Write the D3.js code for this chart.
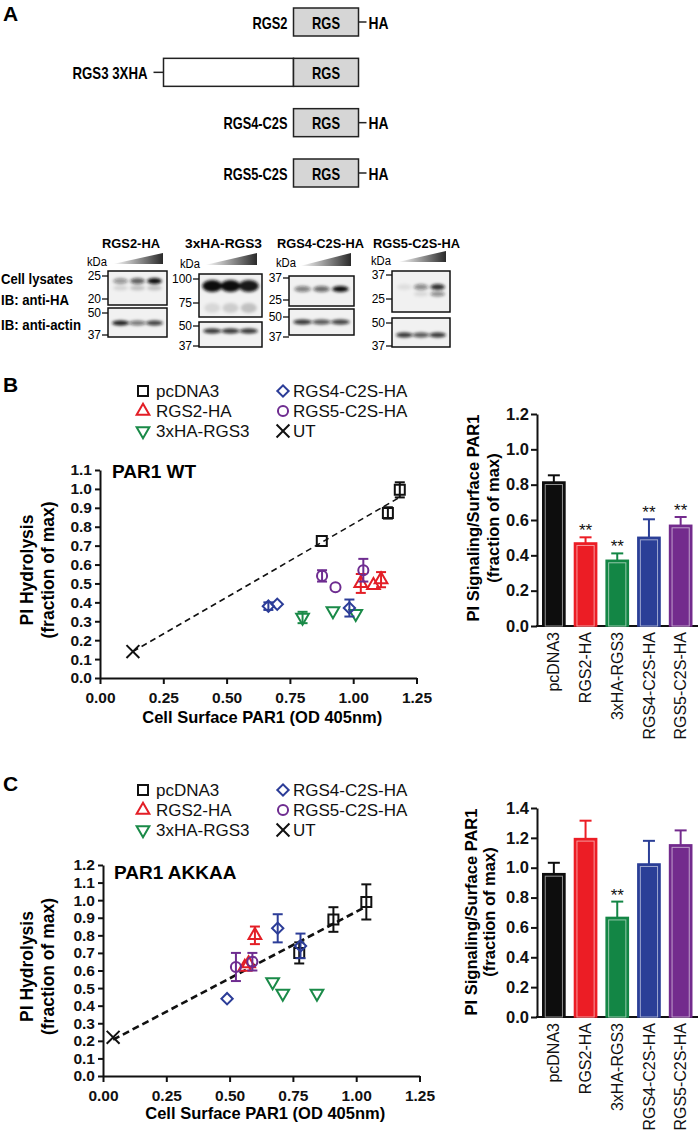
<!DOCTYPE html>
<html><head><meta charset="utf-8">
<script src="https://cdn.jsdelivr.net/npm/d3@7"></script>
<style>
body{margin:0;background:#fff;}
text{font-family:"Liberation Sans",Arial,Helvetica,sans-serif;}
</style></head><body>
<svg id="fig" width="700" height="1138"></svg>
<script>
// ---------------- DATA ----------------
// Panel A schematic
const constructs = ["RGS2","RGS3 3XHA","RGS4-C2S","RGS5-C2S"];
const constructNterm = [0, 2, 0, 0];          // N-terminal extension, in RGS-domain units
const constructTag = ["HA", "", "HA", "HA"];  // C-terminal tag

// Panel A blots
const blotTitles = ["RGS2-HA","3xHA-RGS3","RGS4-C2S-HA","RGS5-C2S-HA"];
const blotTopMarkers = [["25","20"],["100","75"],["37","25"],["37","25"]];
const blotActinMarkers = [["50","37"],["50","37"],["50","37"],["50","37"]];
const blotBandIntensity = [[0.4,0.65,1.0],[1.0,1.0,0.95],[0.5,0.6,1.0],[0.08,0.45,0.85]];
const blotLowerBand = [[0.12,0.2,0.2],[0.1,0.15,0.2],[0,0,0],[0,0.1,0.45]];
const blotActinIntensity = [[0.95,0.55,0.8],[0.85,0.85,0.85],[0.85,0.7,0.8],[0.85,0.7,0.85]];
const blotLeftLabels = ["Cell lysates","IB: anti-HA","IB: anti-actin"];

// Panels B/C scatter: [x, y, yErr]
const seriesNames = ["pcDNA3","RGS2-HA","3xHA-RGS3","RGS4-C2S-HA","RGS5-C2S-HA","UT"];
const wtPcDNA3 = [[0.876,0.725,0],[1.137,0.873,0.03],[1.184,0.995,0.04]];
const wtRGS2   = [[1.03,0.50,0.05],[1.08,0.49,0],[1.11,0.52,0.04]];
const wtRGS3   = [[0.80,0.32,0.03],[0.92,0.355,0],[1.01,0.34,0]];
const wtRGS4   = [[0.665,0.38,0.02],[0.70,0.39,0],[0.985,0.37,0.045]];
const wtRGS5   = [[0.877,0.54,0.03],[0.93,0.48,0],[1.04,0.57,0.06]];
const wtUT     = [[0.13,0.14,0]];

const akPcDNA3 = [[0.775,0.70,0.06],[0.91,0.89,0.07],[1.04,0.99,0.10]];
const akRGS2   = [[0.56,0.62,0],[0.575,0.64,0],[0.60,0.80,0.05]];
const akRGS3   = [[0.67,0.535,0],[0.71,0.47,0],[0.845,0.47,0]];
const akRGS4   = [[0.49,0.44,0],[0.69,0.84,0.08],[0.78,0.74,0.07]];
const akRGS5   = [[0.525,0.62,0.08],[0.59,0.65,0.05]];
const akUT     = [[0.04,0.22,0]];

const scatterXTicks = [0,0.25,0.5,0.75,1.0,1.25];

// Bar charts
const barCategories = ["pcDNA3","RGS2-HA","3xHA-RGS3","RGS4-C2S-HA","RGS5-C2S-HA"];
const wtBarMean = [0.815,0.47,0.372,0.502,0.57];
const wtBarErr  = [0.038,0.032,0.039,0.102,0.047];
const wtBarSig  = ["","**","**","**","**"];
const akBarMean = [0.96,1.195,0.667,1.025,1.153];
const akBarErr  = [0.073,0.12,0.106,0.155,0.097];
const akBarSig  = ["","","**","",""];

// ---------------- DRAW ----------------
const svg = d3.select("#fig");
svg.append("rect").attr("width",700).attr("height",1138).attr("fill","#fff");
const defs = svg.append("defs");
defs.append("filter").attr("id","blur").attr("x","-50%").attr("y","-100%").attr("width","200%").attr("height","300%")
  .append("feGaussianBlur").attr("stdDeviation","1.6");
const wedge = defs.append("linearGradient").attr("id","wedge");
wedge.append("stop").attr("offset","0%").attr("stop-color","#ffffff");
wedge.append("stop").attr("offset","100%").attr("stop-color","#2a2a2a");

const seriesColor = {"pcDNA3":"#111111","RGS2-HA":"#e31e26","3xHA-RGS3":"#1a8a48","RGS4-C2S-HA":"#2c3d98","RGS5-C2S-HA":"#6e2c90","UT":"#111111"};
const barColor = ["#0d0d0d","#ec1d25","#138645","#2b3f97","#732b8d"];
const seriesSymbol = {"pcDNA3":"square","RGS2-HA":"up","3xHA-RGS3":"down","RGS4-C2S-HA":"diamond","RGS5-C2S-HA":"circle","UT":"x"};

function symbolPath(kind){
  switch(kind){
    case "square": return {d:d3.symbol(d3.symbolSquare,100)(), rot:0};
    case "up": return {d:d3.symbol(d3.symbolTriangle,70)(), rot:0};
    case "down": return {d:d3.symbol(d3.symbolTriangle,70)(), rot:180};
    case "diamond": return {d:d3.symbol(d3.symbolSquare,64)(), rot:45};
    case "circle": return {d:d3.symbol(d3.symbolCircle,80)(), rot:0};
    case "x": return {d:d3.symbol(d3.symbolX,110)(), rot:0};
  }
}
function drawSymbol(g, kind, x, y, color){
  const s = symbolPath(kind);
  g.append("path").attr("d", s.d)
    .attr("transform", `translate(${x},${y}) rotate(${s.rot})`)
    .attr("fill","none").attr("stroke", color).attr("stroke-width", 2);
}
// condensed bold text helper (reference uses a narrow face)
function narrow(sel, len){ return sel.attr("textLength",len).attr("lengthAdjust","spacingAndGlyphs"); }

// Panel letters
[["A",3,21],["B",3,392],["C",3,791]].forEach(([t,x,y])=>{
  svg.append("text").attr("x",x).attr("y",y).attr("font-size",21).attr("font-weight","bold").text(t);
});

// ---- Panel A schematic ----
(function(){
  const g = svg.append("g");
  const unit = d3.scaleLinear().domain([0,1]).range([0,65]);
  const rowY = d3.scalePoint().domain(constructs).range([22,173]);
  const labelLen = [35,75,64,64];
  const xR = 358.5;
  constructs.forEach((c,i)=>{
    const y = rowY(c), h = 28;
    const xRGS = xR - unit(1);
    const xStart = xRGS - unit(constructNterm[i]);
    let labelEnd;
    if (constructNterm[i] > 0){
      g.append("rect").attr("x",xStart).attr("y",y-h/2).attr("width",xRGS-xStart).attr("height",h)
        .attr("fill","#fff").attr("stroke","#222").attr("stroke-width",1.5);
      g.append("line").attr("x1",xStart-10).attr("x2",xStart).attr("y1",y).attr("y2",y).attr("stroke","#222").attr("stroke-width",1.5);
      labelEnd = xStart - 16;
    } else labelEnd = xRGS - 6;
    g.append("rect").attr("x",xRGS).attr("y",y-h/2).attr("width",unit(1)).attr("height",h)
      .attr("fill","#d6d6d6").attr("stroke","#222").attr("stroke-width",1.5);
    narrow(g.append("text").attr("x",(xRGS+xR)/2-14).attr("y",y+6.5)
      .attr("font-size",17).attr("font-weight","bold").text("RGS"), 28);
    narrow(g.append("text").attr("x",labelEnd-labelLen[i]).attr("y",y+6.5)
      .attr("font-size",17).attr("font-weight","bold").text(c), labelLen[i]);
    if (constructTag[i]){
      g.append("line").attr("x1",xR).attr("x2",xR+8).attr("y1",y).attr("y2",y).attr("stroke","#222").attr("stroke-width",1.5);
      narrow(g.append("text").attr("x",xR+10).attr("y",y+6.5).attr("font-size",17).attr("font-weight","bold").text(constructTag[i]), 20);
    }
  });
})();

// ---- Panel A blots ----
(function(){
  const g = svg.append("g");
  const layout = [
    {bx0:108,bx1:167,ty0:271,ty1:305,by0:308,by1:337,kx:87,ky:262,wx0:113,wx1:163,wy0:253,wy1:264,tt:[276,299],bt:[313,335],bandY:281,actY:323,tx0:102,tw:58},
    {bx0:199,bx1:262,ty0:274,ty1:317,by0:322,by1:347,kx:180,ky:264,wx0:205,wx1:257,wy0:253,wy1:265,tt:[279,303],bt:[326,346],bandY:286,actY:331,tx0:185,tw:77},
    {bx0:289,bx1:354,ty0:276,ty1:306,by0:309,by1:335,kx:276,ky:263,wx0:300,wx1:351,wy0:253,wy1:266,tt:[278,300],bt:[317,337],bandY:289,actY:322,tx0:277,tw:87},
    {bx0:392,bx1:450,ty0:271,ty1:312,by0:318,by1:347,kx:371,ky:261,wx0:398,wx1:446,wy0:251,wy1:262,tt:[275,299],bt:[323,346],bandY:287,actY:335,tx0:373,tw:87}
  ];
  const leftY = [284,305,330];
  const leftLen = [72,68,80];
  blotLeftLabels.forEach((t,i)=>narrow(g.append("text").attr("x",1).attr("y",leftY[i]).attr("font-size",14.5).attr("font-weight","bold").text(t), leftLen[i]));
  blotTitles.forEach((title,i)=>{
    const L = layout[i];
    narrow(g.append("text").attr("x",L.tx0).attr("y",248).attr("font-size",13.5).attr("font-weight","bold").text(title), L.tw);
    narrow(g.append("text").attr("x",L.kx).attr("y",L.ky+4).attr("font-size",12.5).text("kDa"), 20);
    g.append("polygon").attr("points",`${L.wx0},${L.wy1} ${L.wx1},${L.wy0} ${L.wx1},${L.wy1}`).attr("fill","url(#wedge)");
    [[L.ty0,L.ty1],[L.by0,L.by1]].forEach(([a,b])=>{
      g.append("rect").attr("x",L.bx0).attr("y",a).attr("width",L.bx1-L.bx0).attr("height",b-a)
        .attr("fill","#f1f1f1").attr("stroke","#111").attr("stroke-width",1.5);
    });
    const lane = d3.scaleBand().domain([0,1,2]).range([L.bx0+3,L.bx1-3]).padding(0.12);
    const bands = g.append("g").attr("filter","url(#blur)");
    const big = i===1;
    blotBandIntensity[i].forEach((v,k)=>{
      bands.append("ellipse").attr("cx",lane(k)+lane.bandwidth()/2).attr("cy",L.bandY)
        .attr("rx",lane.bandwidth()/2+(big?2:0)).attr("ry",big?6:3).attr("fill","#111").attr("opacity",v);
      if (blotLowerBand[i][k]>0)
        bands.append("ellipse").attr("cx",lane(k)+lane.bandwidth()/2).attr("cy",L.bandY+(big?22:7))
          .attr("rx",lane.bandwidth()/2).attr("ry",big?5:2.5).attr("fill","#111").attr("opacity",blotLowerBand[i][k]);
    });
    blotActinIntensity[i].forEach((v,k)=>{
      bands.append("ellipse").attr("cx",lane(k)+lane.bandwidth()/2).attr("cy",L.actY)
        .attr("rx",lane.bandwidth()/2+1).attr("ry",2.6).attr("fill","#111").attr("opacity",v);
    });
    [[blotTopMarkers[i],L.tt],[blotActinMarkers[i],L.bt]].forEach(([labs,ys])=>{
      labs.forEach((lab,k)=>{
        g.append("line").attr("x1",L.bx0-6).attr("x2",L.bx0).attr("y1",ys[k]).attr("y2",ys[k]).attr("stroke","#111").attr("stroke-width",1.3);
        g.append("text").attr("x",L.bx0-7).attr("y",ys[k]+4.2).attr("text-anchor","end").attr("font-size",12).text(lab);
      });
    });
  });
})();

// ---- Scatter panels ----
function scatterPanel(cfg){
  const g = svg.append("g");
  const x = d3.scaleLinear().domain([0,1.25]).range(cfg.xr);
  const y = d3.scaleLinear().domain([0,cfg.yMax]).range(cfg.yr);
  const yTicks = d3.range(0, Math.round(cfg.yMax*10)+1).map(d=>d/10);
  const ya = g.append("g").attr("transform",`translate(${cfg.xr[0]},0)`)
    .call(d3.axisLeft(y).tickValues(yTicks).tickFormat(d3.format(".1f")).tickSize(5).tickSizeOuter(0).tickPadding(3));
  const xa = g.append("g").attr("transform",`translate(0,${cfg.yr[0]})`)
    .call(d3.axisBottom(x).tickValues(scatterXTicks).tickFormat(d3.format(".2f")).tickSize(6).tickSizeOuter(0).tickPadding(8));
  [ya,xa].forEach(a=>{
    a.selectAll("path,line").attr("stroke","#111").attr("stroke-width",2);
    a.selectAll("text").attr("font-size",15.5).attr("font-weight","bold").attr("fill","#111")
      .attr("font-family",'"Liberation Sans",Arial,sans-serif');
  });
  const pts = cfg.data["pcDNA3"].concat(cfg.data["UT"]);
  const mx = d3.mean(pts,d=>d[0]), my = d3.mean(pts,d=>d[1]);
  const slope = d3.sum(pts,d=>(d[0]-mx)*(d[1]-my))/d3.sum(pts,d=>(d[0]-mx)**2);
  const ic = my - slope*mx;
  const [xmin,xmax] = d3.extent(pts,d=>d[0]);
  g.append("line").attr("x1",x(xmin)).attr("y1",y(ic+slope*xmin)).attr("x2",x(xmax)).attr("y2",y(ic+slope*xmax))
    .attr("stroke","#111").attr("stroke-width",cfg.dashW).attr("stroke-dasharray",cfg.dash);
  seriesNames.forEach(name=>{
    const col = seriesColor[name];
    cfg.data[name].forEach(([vx,vy,e])=>{
      if (e>0){
        const cx = x(vx), t = y(vy+e), b = y(vy-e);
        g.append("line").attr("x1",cx).attr("x2",cx).attr("y1",t).attr("y2",b).attr("stroke",col).attr("stroke-width",2);
        [t,b].forEach(yy=>g.append("line").attr("x1",cx-5).attr("x2",cx+5).attr("y1",yy).attr("y2",yy).attr("stroke",col).attr("stroke-width",2));
      }
      drawSymbol(g, seriesSymbol[name], x(vx), y(vy), col);
    });
  });
  g.append("text").attr("x",cfg.title[1]).attr("y",cfg.title[2]).attr("font-size",19).attr("font-weight","bold").text(cfg.title[0]);
  const cy = (cfg.yr[0]+cfg.yr[1])/2 - 4;
  g.append("text").attr("transform",`translate(33,${cy}) rotate(-90)`).attr("text-anchor","middle")
    .attr("font-size",17.5).attr("font-weight","bold").text("PI Hydrolysis");
  g.append("text").attr("transform",`translate(54,${cy}) rotate(-90)`).attr("text-anchor","middle")
    .attr("font-size",17.5).attr("font-weight","bold").text("(fraction of max)");
  g.append("text").attr("x",(cfg.xr[0]+cfg.xr[1])/2+4).attr("y",cfg.xTitleY).attr("text-anchor","middle")
    .attr("font-size",16.5).attr("font-weight","bold").text("Cell Surface PAR1 (OD 405nm)");
  const cols = [[143,156],[283,293]];
  seriesNames.forEach((name,i)=>{
    const c = cols[Math.floor(i/3)], ly = cfg.legendY + (i%3)*20;
    drawSymbol(g, seriesSymbol[name], c[0], ly, seriesColor[name]);
    g.append("text").attr("x",c[1]).attr("y",ly+6).attr("font-size",17).attr("fill","#111").text(name);
  });
}

scatterPanel({xr:[100,416.5], yr:[678,470], yMax:1.1, dash:"6,4", dashW:1.6, xTitleY:723, legendY:391,
  title:["PAR1 WT",112,478],
  data:{"pcDNA3":wtPcDNA3,"RGS2-HA":wtRGS2,"3xHA-RGS3":wtRGS3,"RGS4-C2S-HA":wtRGS4,"RGS5-C2S-HA":wtRGS5,"UT":wtUT}});
scatterPanel({xr:[103,419.5], yr:[1076,865], yMax:1.2, dash:"7,4", dashW:2.6, xTitleY:1119, legendY:790,
  title:["PAR1 AKKAA",114,879],
  data:{"pcDNA3":akPcDNA3,"RGS2-HA":akRGS2,"3xHA-RGS3":akRGS3,"RGS4-C2S-HA":akRGS4,"RGS5-C2S-HA":akRGS5,"UT":akUT}});

// ---- Bar panels ----
function barPanel(cfg){
  const g = svg.append("g");
  const x = d3.scaleBand().domain(barCategories).range([538,696.5]).paddingInner(0.3).paddingOuter(0.15);
  const y = d3.scaleLinear().domain([0,cfg.yMax]).range(cfg.yr);
  const ticks = d3.range(0, Math.round(cfg.yMax/0.2)+1).map(d=>+(d*0.2).toFixed(1));
  const ya = g.append("g").attr("transform","translate(537,0)")
    .call(d3.axisLeft(y).tickValues(ticks).tickFormat(d3.format(".1f")).tickSize(6).tickSizeOuter(0).tickPadding(2));
  ya.selectAll("path,line").attr("stroke","#111").attr("stroke-width",2);
  ya.selectAll("text").attr("font-size",16.5).attr("font-weight","bold").attr("fill","#111")
    .attr("font-family",'"Liberation Sans",Arial,sans-serif');
  const xa = g.append("g").attr("transform",`translate(0,${cfg.yr[0]})`)
    .call(d3.axisBottom(x).tickSize(0).tickSizeOuter(0).tickPadding(6));
  xa.select("path").attr("d","M536,0H698").attr("stroke","#111").attr("stroke-width",2);
  xa.selectAll("text").attr("font-size",16).attr("fill","#111").attr("font-family",'"Liberation Sans",Arial,sans-serif')
    .attr("text-anchor","end").attr("dy","0.35em").attr("transform","rotate(-90)")
    .attr("x",-6).attr("y",0);
  barCategories.forEach((c,i)=>{
    const bx = x(c), bw = x.bandwidth(), col = barColor[i];
    const top = y(cfg.mean[i]), errTop = y(cfg.mean[i]+cfg.err[i]), cx = bx+bw/2;
    g.append("line").attr("x1",cx).attr("x2",cx).attr("y1",top).attr("y2",errTop).attr("stroke",col).attr("stroke-width",2);
    g.append("line").attr("x1",cx-6).attr("x2",cx+6).attr("y1",errTop).attr("y2",errTop).attr("stroke",col).attr("stroke-width",2);
    g.append("rect").attr("x",bx).attr("y",top).attr("width",bw).attr("height",cfg.yr[0]-top)
      .attr("fill",col).attr("stroke",col).attr("stroke-width",1.5);
    g.append("rect").attr("x",bx+2.5).attr("y",top+2.5).attr("width",bw-5).attr("height",cfg.yr[0]-top-2.5)
      .attr("fill","none").attr("stroke","rgba(255,255,255,0.55)").attr("stroke-width",1);
    if (cfg.sig[i]) g.append("text").attr("x",cx).attr("y",errTop-1).attr("text-anchor","middle")
      .attr("font-size",17).attr("fill","#111").text(cfg.sig[i]);
  });
  g.append("text").attr("transform",`translate(${cfg.t1[0]},${cfg.t1[1]}) rotate(-90)`).attr("text-anchor","middle")
    .attr("font-size",16.5).attr("font-weight","bold").text("PI Signaling/Surface PAR1");
  g.append("text").attr("transform",`translate(${cfg.t2[0]},${cfg.t2[1]}) rotate(-90)`).attr("text-anchor","middle")
    .attr("font-size",16.5).attr("font-weight","bold").text("(fraction of max)");
}
barPanel({yMax:1.2, yr:[626,414], mean:wtBarMean, err:wtBarErr, sig:wtBarSig, t1:[479,518], t2:[499,518]});
barPanel({yMax:1.4, yr:[1017,808], mean:akBarMean, err:akBarErr, sig:akBarSig, t1:[477,912], t2:[495,912]});
</script>
</body></html>
